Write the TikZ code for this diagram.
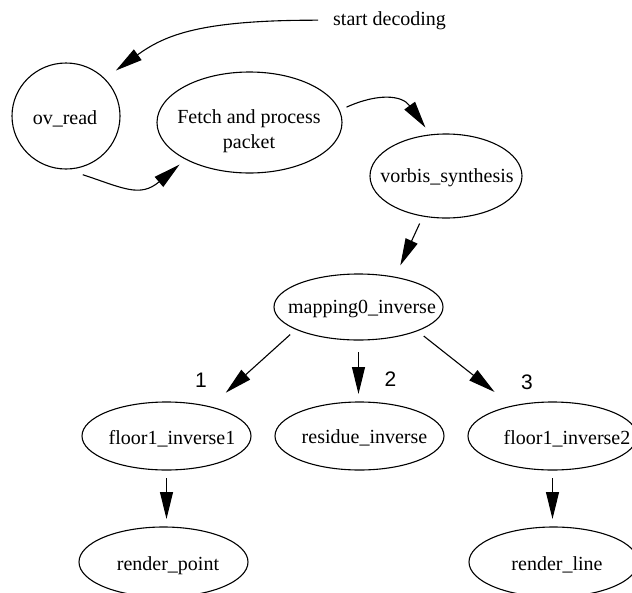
\documentclass[tikz,border=0pt]{standalone}
\usepackage{fontspec}
\setmainfont{Liberation Serif}
\newfontfamily\numfont{Liberation Sans}
\usetikzlibrary{shapes.geometric,arrows.meta}
\begin{document}
\begin{tikzpicture}[x=1pt,y=-1pt,
  gvnode/.style={ellipse, draw, line width=1.1pt, inner sep=0pt, outer sep=8pt},
  txt/.style={anchor=base, inner sep=0pt, font=\fontsize{20}{24}\selectfont},
  num/.style={anchor=base, inner sep=0pt, font=\numfont\fontsize{21}{25}\selectfont},
  conn/.style={line width=1.1pt, -{Triangle[length=27pt,width=13pt]}},
]
\useasboundingbox (0,0) rectangle (632,592);

% node outlines
\node[gvnode, minimum width=108pt, minimum height=106pt] (ov)      at (66,116)    {};
\node[gvnode, minimum width=185pt, minimum height=101pt] (fetch)   at (249.5,122.5) {};
\node[gvnode, minimum width=152pt, minimum height=84pt]  (vorbis)  at (446,176)   {};
\node[gvnode, minimum width=169pt, minimum height=66pt]  (mapping) at (358.5,307) {};
\node[gvnode, minimum width=169pt, minimum height=68pt]  (floor1)  at (166.5,436) {};
\node[gvnode, minimum width=169pt, minimum height=68pt]  (residue) at (359.5,436) {};
\node[gvnode, minimum width=169pt, minimum height=68pt]  (floor2)  at (552.5,436) {};
\node[gvnode, minimum width=169pt, minimum height=70pt]  (rpoint)  at (163.5,562) {};
\node[gvnode, minimum width=169pt, minimum height=70pt]  (rline)   at (553.5,562) {};

% node labels
\node[txt] (ov-t)      at (65,124)    {ov\_read};
\node[txt] (fetch-t1)  at (249,123)   {Fetch and process};
\node[txt] (fetch-t2)  at (249,148)   {packet};
\node[txt] (vorbis-t)  at (447,182)   {vorbis\_synthesis};
\node[txt] (mapping-t) at (362,313)   {mapping0\_inverse};
\node[txt] (floor1-t)  at (172,444)   {floor1\_inverse1};
\node[txt] (residue-t) at (364.5,443.5) {residue\_inverse};
\node[txt] (floor2-t)  at (567,444)   {floor1\_inverse2};
\node[txt] (rpoint-t)  at (168,570)   {render\_point};
\node[txt] (rline-t)   at (557,570)   {render\_line};

% entry point
\node[txt, anchor=base west] (sd) at (333,25) {start decoding};

% branch numbers
\node[num] (n1) at (201,387) {1};
\node[num] (n2) at (390.5,386) {2};
\node[num] (n3) at (527,389) {3};

% connectors
\draw[conn, shorten <=15pt, shorten >=6pt] (sd.west) .. controls (200,20) and (165,35) .. (ov.43);
\draw[conn] (ov.-74) .. controls (123,188) and (140,198) .. (fetch.211);
\draw[conn] (fetch.9) .. controls (378,93) and (402,95) .. (vorbis.113);
\draw[conn, shorten >=5pt] (vorbis.241) -- (mapping.43);
\draw[conn, shorten >=12pt] (mapping.202) -- (floor1.35);
\draw[conn, shorten <=4pt] (mapping.south) -- (mapping.south |- residue.north);
\draw[conn, shorten >=13pt] (mapping.-24) -- (floor2.143);
\draw[conn] (floor1.south) -- (floor1.south |- rpoint.north);
\draw[conn] (floor2.south) -- (floor2.south |- rline.north);
\end{tikzpicture}
\end{document}
